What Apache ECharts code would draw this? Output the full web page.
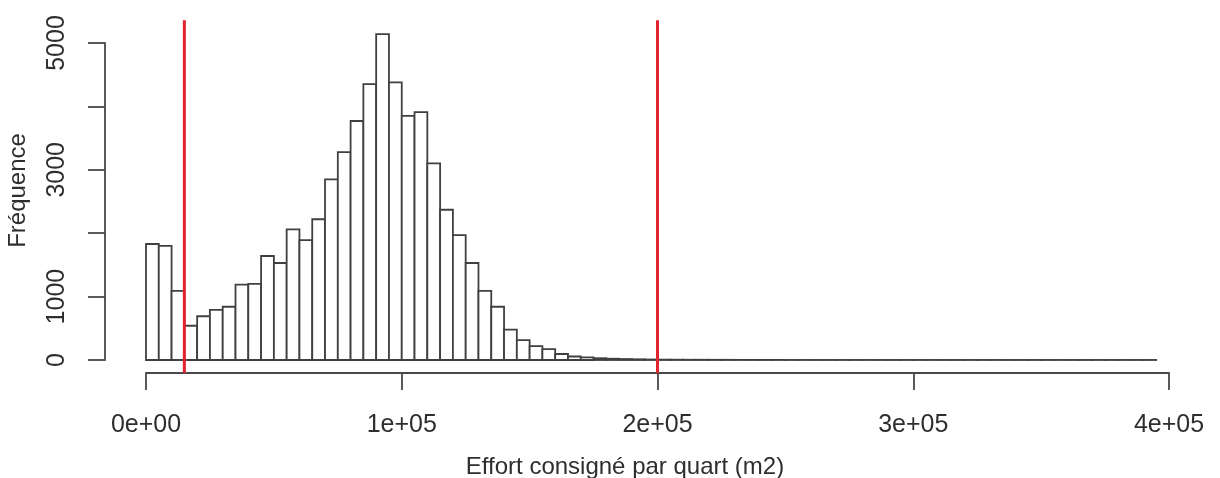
<!DOCTYPE html>
<html>
<head>
<meta charset="utf-8">
<script src="https://cdn.jsdelivr.net/npm/echarts@6/dist/echarts.min.js"></script>
<style>
html,body{margin:0;padding:0;background:#fff;}
#chart{width:1220px;height:478px;}
</style>
</head>
<body>
<div id="chart"></div>
<script>
// Histogram bin width (m2) and counts per bin, bins start at 0
const binWidth = 5000;
const counts = [
  1830, 1800, 1090, 540, 690, 790, 840, 1190, 1200, 1640,
  1530, 2060, 1890, 2220, 2850, 3280, 3770, 4350, 5140, 4380,
  3850, 3910, 3100, 2370, 1970, 1530, 1090, 840, 480, 315,
  220, 170, 95, 55, 40, 28, 20, 15, 11, 8,
  6, 5, 4, 4, 3, 3, 2, 2, 2, 2,
  1, 1, 1, 1, 1, 1, 1, 1, 1, 1,
  1, 1, 1, 1, 1, 1, 1, 1, 1, 1,
  1, 1, 1, 1, 1, 1, 1, 1, 1
];
// Vertical reference lines (x values)
const redLines = [15000, 200000];
// Tick labels
const xTickValues = [0, 100000, 200000, 300000, 400000];
const xTickLabels = ['0e+00', '1e+05', '2e+05', '3e+05', '4e+05'];
const yTickValues = [0, 1000, 2000, 3000, 4000, 5000];
const yTickLabels = ['0', '1000', '', '3000', '', '5000'];
// Plot-region vertical extent in data units (R usr)
const usrYMin = -206, usrYMax = 5360;

const binData = counts.map((c, i) => [i * binWidth, (i + 1) * binWidth, c]);
const lineData = redLines.map(v => [v]);

const chart = echarts.init(document.getElementById('chart'), null, {renderer: 'canvas'});
const FONT = 'Liberation Sans, Arial, Helvetica, sans-serif';
const axisCol = '#484848';
const txtCol = '#2e2e2e';

chart.setOption({
  animation: false,
  backgroundColor: '#ffffff',
  title: {
    text: 'Effort consigné par quart (m2)',
    left: 620, top: 450, textAlign: 'center',
    textStyle: {fontFamily: FONT, fontSize: 24, fontWeight: 'normal', color: txtCol}
  },
  grid: {left: 146, right: 51, top: 43, bottom: 118, containLabel: false, outerBoundsMode: 'none'},
  xAxis: {
    type: 'value', min: 0, max: 400000, interval: 100000,
    offset: 13,
    splitLine: {show: false},
    axisLine: {show: true, onZero: false, lineStyle: {color: axisCol, width: 1.8}},
    axisTick: {show: true, inside: false, length: 17, lineStyle: {color: axisCol, width: 1.8}},
    axisLabel: {
      margin: 40, fontFamily: FONT, fontSize: 25, color: txtCol,
      formatter: v => { const i = xTickValues.indexOf(v); return i >= 0 ? xTickLabels[i] : ''; }
    }
  },
  yAxis: {
    type: 'value', min: 0, max: 5000, interval: 1000,
    offset: 41,
    name: 'Fréquence', nameLocation: 'middle', nameRotate: 90, nameGap: 75,
    nameTextStyle: {fontFamily: FONT, fontSize: 24, color: txtCol, padding: [0, 0, 0, 22]},
    splitLine: {show: false},
    axisLine: {show: true, onZero: false, lineStyle: {color: axisCol, width: 1.8}},
    axisTick: {show: true, inside: false, length: 17, lineStyle: {color: axisCol, width: 1.8}},
    axisLabel: {
      rotate: 90, margin: 35, fontFamily: FONT, fontSize: 25, color: txtCol,
      formatter: v => { const i = yTickValues.indexOf(v); return i >= 0 ? yTickLabels[i] : ''; }
    }
  },
  series: [
    {
      type: 'custom',
      data: binData,
      clip: false,
      renderItem: (params, api) => {
        const p0 = api.coord([api.value(0), api.value(2)]);
        const p1 = api.coord([api.value(1), 0]);
        return {
          type: 'rect',
          shape: {x: p0[0], y: p0[1], width: p1[0] - p0[0], height: p1[1] - p0[1]},
          style: {fill: '#ffffff', stroke: '#404040', lineWidth: 1.8}
        };
      },
      encode: {x: [0, 1], y: 2}
    },
    {
      type: 'custom',
      data: lineData,
      clip: false,
      renderItem: (params, api) => {
        const top = api.coord([api.value(0), usrYMax]);
        const bot = api.coord([api.value(0), usrYMin]);
        return {
          type: 'line',
          shape: {x1: top[0], y1: top[1], x2: bot[0], y2: bot[1]},
          style: {stroke: '#e2232e', lineWidth: 3}
        };
      },
      encode: {x: 0}
    }
  ]
});
</script>
</body>
</html>
